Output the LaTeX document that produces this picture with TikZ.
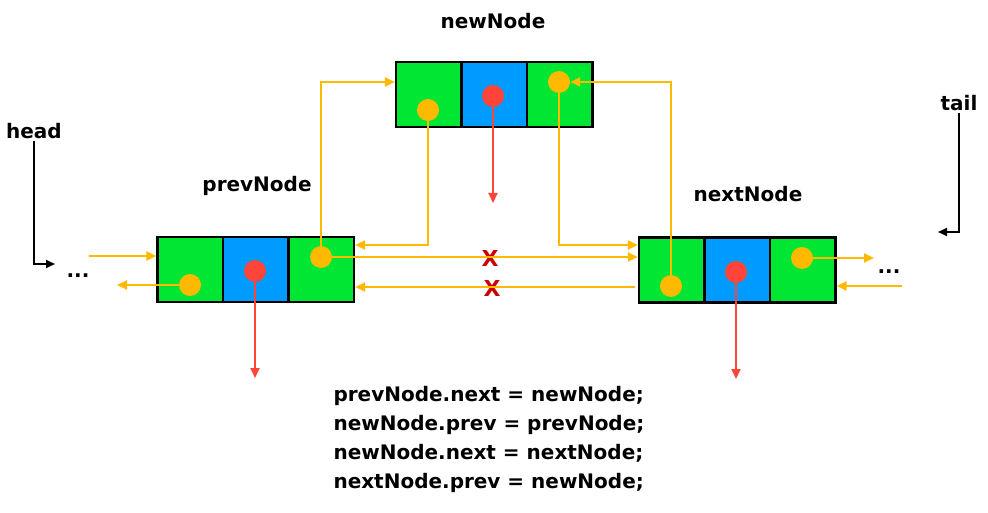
\documentclass[tikz,border=0pt]{standalone}
\usepackage{fontspec}
\setmainfont{DejaVu Sans}
\usepackage{tikz}
\usepackage{xcolor}
\usetikzlibrary{arrows.meta}
\definecolor{cellgreen}{RGB}{0,230,50}
\definecolor{cellblue}{RGB}{0,155,255}
\definecolor{linkorange}{RGB}{255,185,0}
\definecolor{dotred}{RGB}{255,68,58}
\definecolor{crossred}{RGB}{204,0,0}

\begin{document}
\begin{tikzpicture}[x=1pt, y=-1pt,
    font=\fontsize{20}{24}\selectfont\bfseries,
    cell/.style={rectangle, draw, line width=2.2pt, minimum width=65.5pt, minimum height=65pt, inner sep=0pt},
    odot/.style={circle, fill=linkorange, minimum size=22pt, inner sep=0pt},
    rdot/.style={circle, fill=dotred, minimum size=22pt, inner sep=0pt},
    link/.style={draw=linkorange, line width=2pt, -{Triangle[length=10pt, width=9pt]}},
    rlink/.style={draw=dotred, line width=2pt, -{Triangle[length=10pt, width=9pt]}},
    ptr/.style={draw=black, line width=2pt, -{Triangle[length=9pt, width=8pt]}}]
    \useasboundingbox (0,0) rectangle (988,513);

    % Nodes
    \node[cell, fill=cellgreen] (p1) at (190.25, 269.5) {};  % prevNode
    \node[cell, fill=cellblue]  (p2) at (255.75, 269.5) {};
    \node[cell, fill=cellgreen] (p3) at (321.25, 269.5) {};
    \node[cell, fill=cellgreen] (n1) at (428.75, 94.5) {};   % newNode
    \node[cell, fill=cellblue]  (n2) at (494.25, 94.5) {};
    \node[cell, fill=cellgreen] (n3) at (559.75, 94.5) {};
    \node[cell, fill=cellgreen] (x1) at (671.75, 270) {};    % nextNode
    \node[cell, fill=cellblue]  (x2) at (737.25, 270) {};
    \node[cell, fill=cellgreen] (x3) at (802.75, 270) {};

    \node[odot] (po1) at (190, 285) {};
    \node[rdot] (pr)  at (255, 271) {};
    \node[odot] (po2) at (321, 257) {};
    \node[odot] (no1) at (428, 110) {};
    \node[rdot] (nr)  at (493, 96) {};
    \node[odot] (no2) at (559, 82) {};
    \node[odot] (xo1) at (671, 286) {};
    \node[rdot] (xr)  at (736, 272) {};
    \node[odot] (xo2) at (802, 258) {};

    % Labels
    \node (newlab)  at (493, 21) {newNode};
    \node (prevlab) at (257, 186) {prevNode};
    \node (nextlab) at (748, 194) {nextNode};
    \node[inner sep=2pt] (head) at (34, 131) {head};
    \node[inner sep=2pt] (tail) at (959, 103) {tail};
    \node[anchor=base] (d1) at (78, 277) {...};
    \node[anchor=base] (d2) at (889, 273) {...};
    \node[text=crossred, font=\fontsize{22}{26}\selectfont\bfseries] (c1) at (490, 258) {X};
    \node[text=crossred, font=\fontsize{22}{26}\selectfont\bfseries] (c2) at (492, 288) {X};
    \node[anchor=base west, align=left, font=\fontsize{20}{28.7}\selectfont\bfseries] (code) at (330, 488)
        {prevNode.next = newNode;\\newNode.prev = prevNode;\\newNode.next = nextNode;\\nextNode.prev = newNode;};

    % Free ends
    \coordinate (pe) at (255, 378);
    \coordinate (ne) at (493, 203);
    \coordinate (xe) at (736, 379);
    \coordinate (a1) at (89, 256);
    \coordinate (a2) at (117, 285);
    \coordinate (b1) at (635, 287);
    \coordinate (b2) at (874, 258);
    \coordinate (b3) at (902, 286);
    \coordinate (hd) at (55, 264);
    \coordinate (tl) at (938, 232);

    % Edges
    \draw[link] (po2.north) |- (n1.west |- no2);
    \draw[link] (no1.south) |- ([yshift=24.5pt]p3.east);
    \draw[link] (no2.south) |- ([yshift=25pt]x1.west);
    \draw[link] (po2.east) -- (x1.west |- po2);
    \draw[link] (b1) -- (p3.east |- b1);
    \draw[link] (xo1.north) |- (no2.east);
    \draw[link] (a1) -- (p1.west |- a1);
    \draw[link] (po1.west) -- (a2);
    \draw[link] (xo2.east) -- (b2);
    \draw[link] (b3) -- (x3.east |- b3);
    \draw[rlink] (pr.south) -- (pe);
    \draw[rlink] (nr.south) -- (ne);
    \draw[rlink] (xr.south) -- (xe);
    \draw[ptr] (head.south) |- (hd);
    \draw[ptr] (tail.south) |- (tl);
\end{tikzpicture}
\end{document}
